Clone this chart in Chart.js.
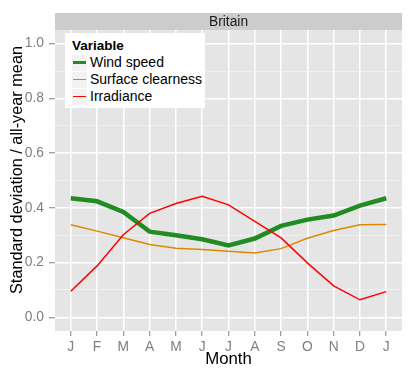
<!DOCTYPE html>
<html>
<head>
<meta charset="utf-8">
<script src="https://cdn.jsdelivr.net/npm/chart.js@4/dist/chart.umd.min.js"></script>
<style>
  body { margin: 0; background: #fff; font-family: "Liberation Sans", Arial, sans-serif; }
  #wrap { position: relative; width: 415px; height: 376px; }
  #legend { position: absolute; left: 65px; top: 33px; width: 140px; height: 75px; background: #fff; }
  #legend .title { position: absolute; left: 7px; top: 5px; font-weight: bold; font-size: 13.5px; line-height: 16px; color: #000; }
  #legend .row { position: absolute; left: 7px; height: 17px; display: flex; align-items: center; }
  #legend .key { position: relative; width: 15px; height: 16px; background: #f2f2f2; margin-right: 3px; }
  #legend .key span { position: absolute; left: 1px; right: 1px; top: 50%; }
  #legend .label { font-size: 14px; line-height: 17px; color: #000; white-space: nowrap; }
</style>
</head>
<body>
<div id="wrap">
  <canvas id="chart" width="415" height="376"></canvas>
  <div id="legend"></div>
</div>
<script>
const facetName = "Britain";
const xTitle = "Month";
const yTitle = "Standard deviation / all-year mean";
const months = ["J", "F", "M", "A", "M", "J", "J", "A", "S", "O", "N", "D", "J"];
const yMajorTicks = [0, 0.2, 0.4, 0.6, 0.8, 1.0];
const yMinorTicks = [0.1, 0.3, 0.5, 0.7, 0.9];

const seriesNames = ["Wind speed", "Surface clearness", "Irradiance"];
const seriesColors = ["#228b22", "#da8a00", "#ff0000"];
const windSpeed = [0.435, 0.424, 0.385, 0.313, 0.300, 0.285, 0.263, 0.288, 0.334, 0.357, 0.372, 0.408, 0.435];
const surfaceClearness = [0.338, 0.315, 0.291, 0.266, 0.252, 0.248, 0.241, 0.235, 0.251, 0.289, 0.317, 0.338, 0.339];
const irradiance = [0.095, 0.188, 0.302, 0.380, 0.416, 0.442, 0.411, 0.351, 0.290, 0.199, 0.115, 0.064, 0.094];

const seriesValues = [windSpeed, surfaceClearness, irradiance];
const lineWidths = [4.5, 1.5, 1.5];
const keyWidths = [3, 1.3, 1.3];

const font = "'Liberation Sans', Arial, sans-serif";
const isMajor = (v) => yMajorTicks.some((m) => Math.abs(m - v) < 1e-6);

// grey panel, facet strip and the y title (centred like ggplot does it)
const panelPlugin = {
  id: "panel",
  beforeDraw(chart) {
    const { ctx, chartArea: a } = chart;
    ctx.save();
    ctx.fillStyle = "#e5e5e5";
    ctx.fillRect(a.left, a.top, a.width, a.height);
    ctx.fillStyle = "#cccccc";
    ctx.fillRect(a.left, 13, a.width, a.top - 13);
    ctx.fillStyle = "#1a1a1a";
    ctx.font = "13.8px " + font;
    ctx.textAlign = "center";
    ctx.textBaseline = "middle";
    ctx.fillText(facetName, (a.left + a.right) / 2, (13 + a.top) / 2 + 0.5);

    ctx.fillStyle = "#000";
    ctx.font = "16.3px " + font;
    ctx.textBaseline = "alphabetic";
    ctx.translate(22, 170);
    ctx.rotate(-Math.PI / 2);
    ctx.fillText(yTitle, 0, 0);
    ctx.restore();
  },
};

const datasets = seriesNames.map((name, i) => ({
  label: name,
  data: seriesValues[i].map((v, j) => ({ x: j, y: v })),
  borderColor: seriesColors[i],
  borderWidth: lineWidths[i],
  pointRadius: 0,
  tension: 0,
  fill: false,
  order: seriesNames.length - i,
}));

new Chart(document.getElementById("chart"), {
  type: "line",
  data: { datasets },
  plugins: [panelPlugin],
  options: {
    responsive: false,
    animation: false,
    layout: { padding: { left: 0, right: 13, top: 30, bottom: 0 } },
    plugins: {
      legend: { display: false },
      tooltip: { enabled: false },
    },
    scales: {
      x: {
        type: "linear",
        min: -0.6,
        max: 12.6,
        afterBuildTicks: (axis) => {
          axis.ticks = months.map((m, i) => ({ value: i }));
        },
        afterFit: (axis) => {
          axis.height = 45;
        },
        ticks: {
          callback: (v) => months[v],
          autoSkip: false,
          maxRotation: 0,
          color: "#7f7f7f",
          font: { family: font, size: 13.8 },
          padding: 3,
        },
        grid: {
          color: "#ffffff",
          lineWidth: 1.5,
          tickColor: "#7f7f7f",
          tickLength: 5,
          tickWidth: 1,
        },
        border: { display: false },
        title: {
          display: true,
          text: xTitle,
          color: "#000",
          font: { family: font, size: 16.8 },
          padding: { top: 0, bottom: 7 },
        },
      },
      y: {
        type: "linear",
        min: -0.05,
        max: 1.05,
        afterBuildTicks: (axis) => {
          axis.ticks = yMajorTicks.concat(yMinorTicks).sort((a, b) => a - b).map((v) => ({ value: v }));
        },
        afterFit: (axis) => {
          axis.width = 55;
        },
        ticks: {
          callback: (v) => (isMajor(v) ? v.toFixed(1) : ""),
          color: "#7f7f7f",
          font: { family: font, size: 13.8 },
          padding: 5,
        },
        grid: {
          color: (ctx) => (ctx.tick && isMajor(ctx.tick.value) ? "#ffffff" : "#f2f2f2"),
          lineWidth: (ctx) => (ctx.tick && isMajor(ctx.tick.value) ? 1.5 : 0.8),
          tickColor: (ctx) => (ctx.tick && isMajor(ctx.tick.value) ? "#7f7f7f" : "rgba(0,0,0,0)"),
          tickLength: 6,
          tickWidth: 1,
        },
        border: { display: false },
        title: { display: false },
      },
    },
  },
});

// legend box, drawn as HTML over the panel
const legend = document.getElementById("legend");
const title = document.createElement("div");
title.className = "title";
title.textContent = "Variable";
legend.appendChild(title);
seriesNames.forEach((name, i) => {
  const row = document.createElement("div");
  row.className = "row";
  row.style.top = 21 + i * 17 + "px";
  const key = document.createElement("div");
  key.className = "key";
  const line = document.createElement("span");
  line.style.height = keyWidths[i] + "px";
  line.style.marginTop = -keyWidths[i] / 2 + "px";
  line.style.background = seriesColors[i];
  key.appendChild(line);
  const label = document.createElement("div");
  label.className = "label";
  label.textContent = name;
  row.appendChild(key);
  row.appendChild(label);
  legend.appendChild(row);
});
</script>
</body>
</html>
